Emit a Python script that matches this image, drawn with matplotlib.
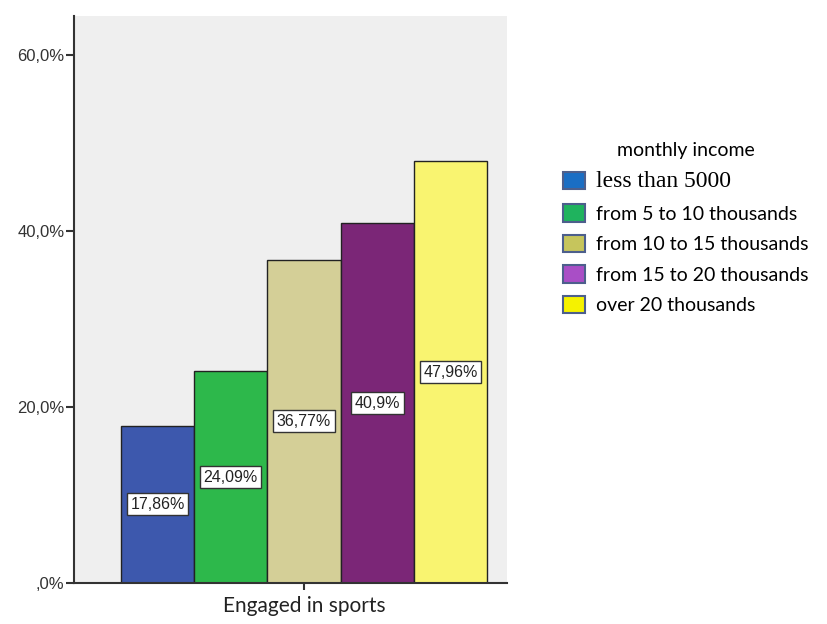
import matplotlib.pyplot as plt
import numpy as np
from matplotlib.patches import Patch

# data
groups = ['less than 5000', 'from 5 to 10 thousands', 'from 10 to 15 thousands',
          'from 15 to 20 thousands', 'over 20 thousands']
values = [17.86, 24.09, 36.77, 40.9, 47.96]
value_labels = ['17,86%', '24,09%', '36,77%', '40,9%', '47,96%']
category = 'Engaged in sports'
yticks = [0, 20, 40, 60]
ytick_labels = [',0%', '20,0%', '40,0%', '60,0%']

bar_colors = ['#3d58ad', '#2db84b', '#d4cf97', '#7b2677', '#f9f470']
legend_colors = ['#1a6ec4', '#1fb35e', '#c6c55c', '#a94ec6', '#f5f200']

fig = plt.figure(figsize=(8.27, 6.24), dpi=100)
ax = fig.add_axes([0.0895, 0.0657, 0.5235, 0.908])
ax.set_facecolor('#efefef')

w = 1.0
xs = (np.arange(len(values)) - 2) * w
bars = ax.bar(xs, values, width=w, color=bar_colors, edgecolor='#222222', linewidth=1.0, zorder=2)

# labels sit at half the bar height, in white boxes
for x, v, lab in zip(xs, values, value_labels):
    ax.text(x, v / 2, lab, ha='center', va='center', fontsize=11.5,
            family='Liberation Sans', color='#222222', zorder=3,
            bbox=dict(boxstyle='square,pad=0.22', facecolor='white', edgecolor='#333333', linewidth=1.0))

ax.set_xlim(-3.14, 2.77)
ax.set_ylim(0, 64.4)
ax.set_yticks(yticks)
ax.set_yticklabels(ytick_labels, family='Liberation Sans', fontsize=12, color='#333333')
ax.set_xticks([0])
ax.set_xticklabels([category], family='Lato', fontsize=15, color='#222222')
ax.tick_params(axis='y', direction='out', length=6, width=1.5, color='#333333', pad=1)
ax.tick_params(axis='x', direction='out', length=5, width=1.5, color='#333333', pad=4)

for s in ['top', 'right']:
    ax.spines[s].set_visible(False)
for s in ['left', 'bottom']:
    ax.spines[s].set_color('#333333')
    ax.spines[s].set_linewidth(1.5)

handles = [Patch(facecolor=c, edgecolor='#4d5f8c', linewidth=1.5) for c in legend_colors]
leg = fig.legend(handles, groups, loc='upper left', bbox_to_anchor=(0.66, 0.800),
                 frameon=False, title='monthly income', fontsize=14,
                 title_fontsize=14, handlelength=1.1, handleheight=1.0,
                 handletextpad=0.6, labelspacing=0.62, alignment='center')
leg._legend_handle_box.sep = 8
for i, t in enumerate(leg.get_texts()):
    if i == 0:
        t.set_fontfamily('Liberation Serif')
        t.set_fontsize(17)
    else:
        t.set_fontfamily('Lato')
leg.get_title().set_fontfamily('Lato')

fig.savefig('out.png', dpi=100)
